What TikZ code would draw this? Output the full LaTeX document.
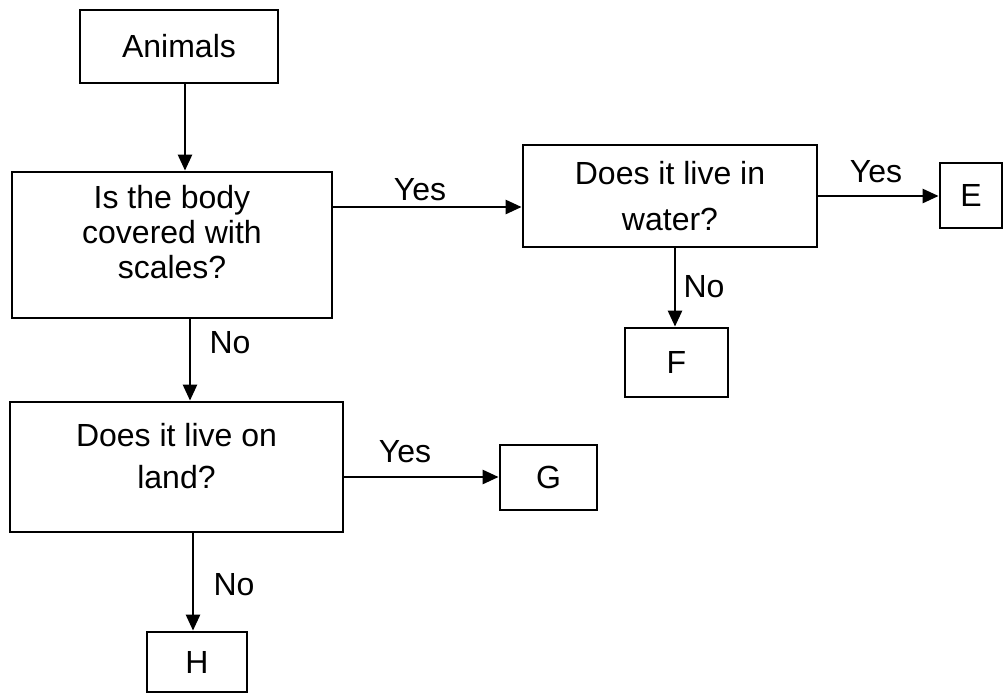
\documentclass[tikz,border=0pt]{standalone}
\usepackage{fontspec}
\setmainfont{Liberation Sans}
\usetikzlibrary{arrows.meta}
\begin{document}
\begin{tikzpicture}[x=1pt,y=-1pt,
  box/.style={draw,line width=2.8pt,inner sep=0pt,align=center,
    font=\fontsize{32}{35}\selectfont},
  lbl/.style={inner sep=0pt,font=\fontsize{32}{35}\selectfont},
  arr/.style={line width=2.6pt,-{Triangle[length=16pt,width=14pt]}}]
\useasboundingbox (0,0) rectangle (1008,694);
\node[box,minimum width=198pt,minimum height=73pt] (an) at (179,46.5) {Animals};
\node[box,minimum width=320pt,minimum height=146pt,text height=67pt,text depth=0pt] (body) at (172,245) {Is the body\\covered with\\scales?};
\node[box,minimum width=294pt,minimum height=102pt,text height=69pt,text depth=0pt,
  font=\fontsize{32}{46}\selectfont] (water) at (670,196) {Does it live in\\water?};
\node[box,minimum width=62pt,minimum height=65pt] (e) at (971,195.5) {E};
\node[box,minimum width=103pt,minimum height=69pt] (f) at (676.5,362.5) {F};
\node[box,minimum width=333pt,minimum height=130pt,text height=43pt,text depth=0pt,
  font=\fontsize{32}{42}\selectfont] (land) at (176.5,467) {Does it live on\\land?};
\node[box,minimum width=97pt,minimum height=65pt] (g) at (548.5,477.5) {G};
\node[box,minimum width=100pt,minimum height=60pt] (h) at (197,662) {H};
\draw[arr] ([xshift=6pt]an.south) -- ([xshift=6pt]an.south |- body.north);
\draw[arr] ([yshift=38pt]body.east) -- ([yshift=38pt]body.east -| water.west);
\draw[arr] (water.east) -- (water.east -| e.west);
\draw[arr] ([xshift=5pt]water.south) -- ([xshift=5pt]water.south |- f.north);
\draw[arr] ([xshift=18pt]body.south) -- ([xshift=18pt]body.south |- land.north);
\draw[arr] ([yshift=-10pt]land.east) -- ([yshift=-10pt]land.east -| g.west);
\draw[arr] ([xshift=16.5pt]land.south) -- ([xshift=16.5pt]land.south |- h.north);
\node[lbl] (y1) at (420,190) {Yes};
\node[lbl] (y2) at (876,172) {Yes};
\node[lbl] (n1) at (704,287) {No};
\node[lbl] (n2) at (230,343) {No};
\node[lbl] (y3) at (405,452) {Yes};
\node[lbl] (n3) at (234,585) {No};
\end{tikzpicture}
\end{document}
